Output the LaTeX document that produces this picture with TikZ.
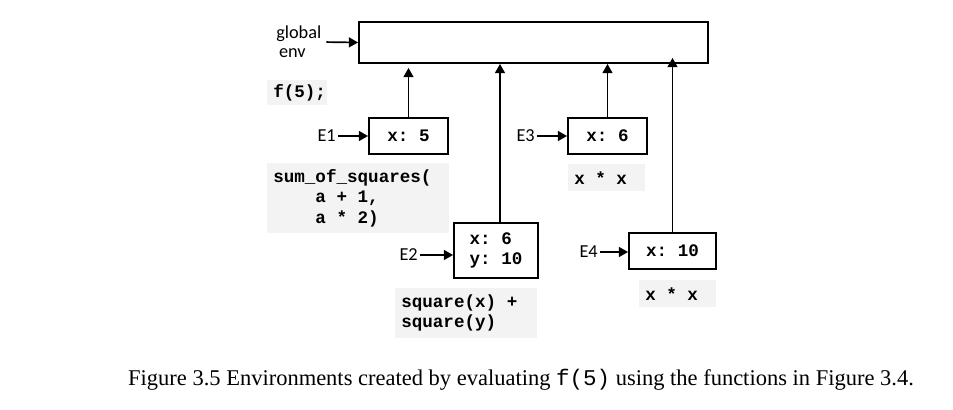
\documentclass[tikz,border=0pt]{standalone}
\usepackage{fontspec}
\setmainfont{Liberation Serif}
\setmonofont{Liberation Mono}
\newfontfamily\labelfont{Carlito}
\usetikzlibrary{arrows.meta}
\definecolor{codegray}{RGB}{243,243,243}
\newcommand{\codefont}{\ttfamily\bfseries\fontsize{12.5}{14.3}\selectfont}
\tikzset{
  env/.style={draw, line width=1.3pt, minimum width=1.975cm, minimum height=0.9cm,
    font=\codefont},
  code/.style={fill=codegray, anchor=north west, align=left, inner xsep=0.15cm,
    inner ysep=0.05cm, font=\codefont,
    execute at begin node={\spaceskip=0.6em\xspaceskip=0.6em\relax}},
  lbl/.style={font=\labelfont\fontsize{13}{13.5}\selectfont, inner sep=0pt},
  link/.style={-{Triangle[length=6.5pt,width=7pt]}, line width=1.2pt}
}

\begin{document}
\begin{tikzpicture}[x=0.025cm,y=-0.025cm]
			\useasboundingbox (0,0) rectangle (953,409);
			% global frame
			\node[env, minimum width=8.725cm, minimum height=1.025cm] (glob) at (533.5,42.5) {};
			\node[lbl, anchor=west, align=left] (genv) at (276,42) {global\\\hspace*{0.07cm}env};
			\draw[link, shorten <=0.12cm] (genv.east) -- (glob.west);

			% code snippets
			\node[code, text width=1.2cm, minimum height=0.625cm] (fcall) at (267,80) {f(5);};
			\node[code, text width=4.25cm, minimum height=1.75cm] (sumsq) at (267,163)
				{sum\_of\_squares(\\\phantom{xxxx}a + 1,\\\phantom{xxxx}a * 2)};
			\node[code, text width=1.625cm, minimum height=0.675cm] (body1) at (568,164) {x * x};
			\node[code, text width=3.25cm, minimum height=1.25cm] (sqsum) at (395,288)
				{square(x) +\\square(y)};
			\node[code, text width=1.625cm, minimum height=0.675cm] (body2) at (639,280) {x * x};

			% frames
			\node[env] (e1) at (408.5,136) {x: 5};
			\node[env] (e3) at (607.5,136) {x: 6};
			\node[env, minimum width=2.1cm, minimum height=1.375cm, align=left] (e2) at (496,250.5) {x: 6\\y: 10};
			\node[env, minimum width=2.175cm] (e4) at (672.5,251) {x: 10};

			\node[lbl, anchor=east] (n1) at (336,136) {E1};
			\node[lbl, anchor=east] (n3) at (535,136) {E3};
			\node[lbl, anchor=east] (n2) at (418,255) {E2};
			\node[lbl, anchor=east] (n4) at (598,252) {E4};

			\begin{scope}[shorten <=0.05cm]
			\draw[link] (n1.east) -- (e1.west);
			\draw[link] (n3.east) -- (e3.west);
			\draw[link] (n2.east) -- (n2.east -| e2.west);
			\draw[link] (n4.east) -- (n4.east -| e4.west);
			\end{scope}

			% enclosing environment pointers
			\draw[link, shorten >=0.1cm] (e1.north) -- (e1.north |- glob.south);
			\draw[link] ([xshift=0.1cm]e2.north) -- ([xshift=0.1cm]e2.north |- glob.south);
			\draw[link] (e3.north) -- (e3.north |- glob.south);
			\draw[link, shorten >=-0.15cm] (e4.north) -- (e4.north |- glob.south);

			\node (cap) at (521,380) {\fontsize{16}{18}\selectfont Figure 3.5 Environments created by evaluating \texttt{f(5)} using the functions in Figure 3.4.};
\end{tikzpicture}
\end{document}
